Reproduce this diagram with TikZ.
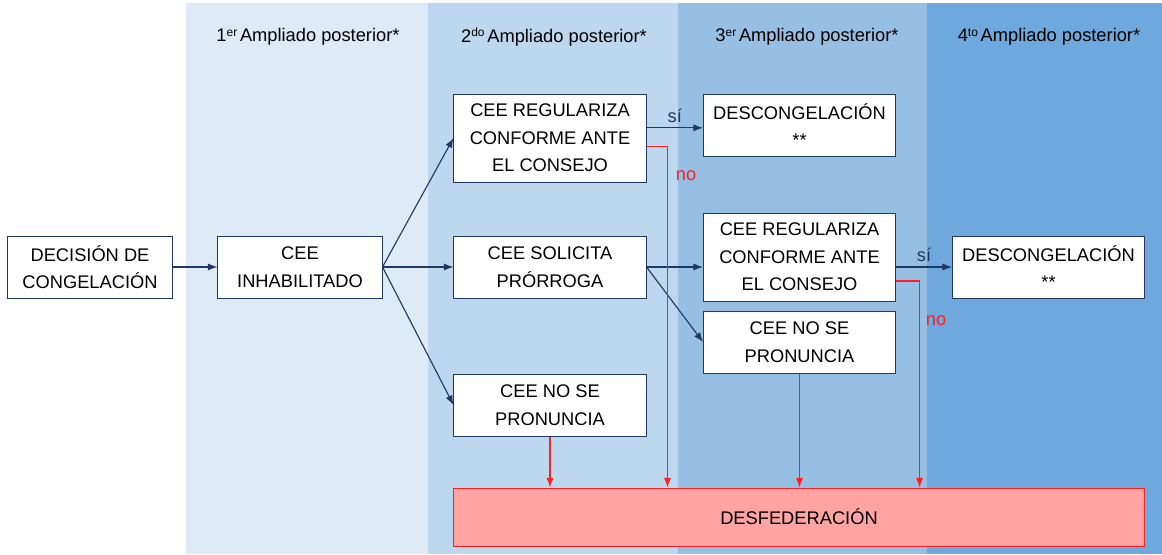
\documentclass[tikz,border=0pt]{standalone}
\usepackage{fontspec}
\setmainfont{Liberation Sans}
\usetikzlibrary{positioning,arrows.meta}
\definecolor{colA}{HTML}{DEEAF6}
\definecolor{colB}{HTML}{BDD7EE}
\definecolor{colC}{HTML}{97BFE4}
\definecolor{colD}{HTML}{6FA8DC}
\definecolor{navy}{HTML}{203864}
\definecolor{redfill}{HTML}{FFA3A3}
\definecolor{redline}{HTML}{FF2020}
\newcommand{\ordsup}[1]{\raisebox{0.55ex}{\fontsize{8.5}{8.5}\selectfont #1}\hspace{0.15em}}

\begin{document}
\begin{tikzpicture}[x=0.025cm, y=-0.025cm,
  main/.style = {draw=navy, fill=white, line width=0.7pt, align=center, minimum width=4.8cm, minimum height=1.55cm, inner sep=0pt, font=\fontsize{13}{19.5}\selectfont},
  head/.style = {font=\fontsize{13}{16}\selectfont},
  flow/.style = {draw=navy, line width=0.8pt, -{Latex[length=2.4mm,width=1.8mm]}},
  nogo/.style = {draw=redline, line width=0.8pt, -{Latex[length=2.4mm,width=1.8mm]}}]
            % columns
            \fill[white] (0,0) rectangle (1162,554);
            \fill[colA] (186,3) rectangle (428,554);
            \fill[colB] (428,3) rectangle (678,554);
            \fill[colC] (678,3) rectangle (927,554);
            \fill[colD] (927,3) rectangle (1162,554);
            \node[head] (h1) at (308,37) {1\ordsup{er}Ampliado posterior*};
            \node[head] (h2) at (554,37) {2\ordsup{do}Ampliado posterior*};
            \node[head] (h3) at (807,37) {3\ordsup{er}Ampliado posterior*};
            \node[head] (h4) at (1049,37) {4\ordsup{to}Ampliado posterior*};
            % boxes
            \node[main, minimum width=4.1cm] (1) at (90,267) {DECISIÓN DE\\CONGELACIÓN};
            \node[main, minimum width=4.1cm] (2) at (300,267) {CEE\\INHABILITADO};
            \node[main, minimum height=2.2cm] (3) at (550,138) {CEE REGULARIZA\\CONFORME ANTE\\EL CONSEJO};
            \node[main] (4) at (550,267) {CEE SOLICITA\\PRÓRROGA};
            \node[main] (5) at (550,405) {CEE NO SE\\PRONUNCIA};
            \node[main] (6) at (799.5,125) {DESCONGELACIÓN\\**};
            \node[main, minimum height=2.2cm] (7) at (799.5,257) {CEE REGULARIZA\\CONFORME ANTE\\EL CONSEJO};
            \node[main] (8) at (799.5,342) {CEE NO SE\\PRONUNCIA};
            \node[main] (9) at (1048.5,267) {DESCONGELACIÓN\\**};
            \node[main, draw=redline, fill=redfill, minimum width=17.25cm, minimum height=1.45cm] (10) at (799,517) {DESFEDERACIÓN};
            % blue arrows
            \draw[flow] (1) -- (2);
            \draw[flow] (2.east) -- (3.west);
            \draw[flow] (2.east) -- (4.west);
            \draw[flow] (2.east) -- (5.west);
            \draw[flow] ([yshift=-0.07cm]6.west -| 3.east) -- node[above, head, text=navy] {sí} ([yshift=-0.07cm]6.west);
            \draw[flow] (4.east) -- (4.east -| 7.west);
            \draw[flow] (4.east) -- (8.west);
            \draw[flow] (9.west -| 7.east) -- node[above, head, text=navy] {sí} (9.west);
            % red arrows
            \draw[nogo] ([yshift=-0.22cm]3.east) -| ([xshift=5.35cm]10.north west);
            \node[head, text=redline] (no1) at (686,176) {no};
            \draw[nogo] (5.south) -- (5.south |- 10.north);
            \draw[nogo] (8.south) -- (8.south |- 10.north);
            \draw[nogo] ([yshift=-0.6cm]7.east) -| ([xshift=11.65cm]10.north west);
            \node[head, text=redline] (no2) at (936,321) {no};
        \end{tikzpicture}
\end{document}
